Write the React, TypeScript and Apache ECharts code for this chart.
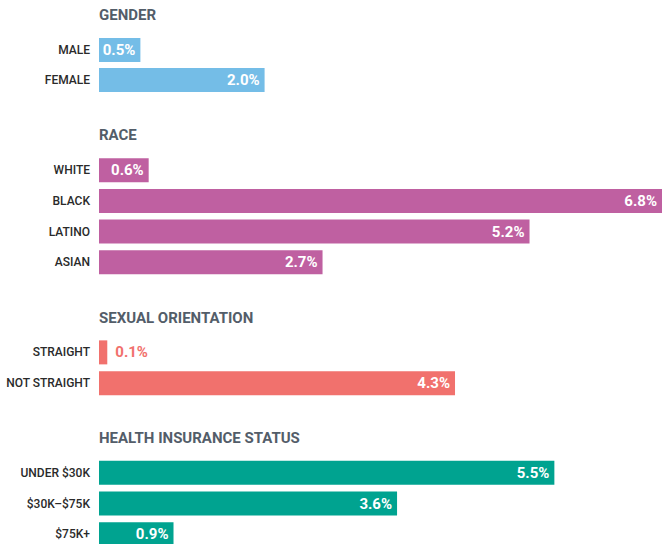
import React, { useEffect, useRef } from "react";
import * as echarts from "echarts";

const groupTitles = ["GENDER", "RACE", "SEXUAL ORIENTATION", "HEALTH INSURANCE STATUS"];
const genderCats = ["MALE", "FEMALE"];
const genderVals = [0.5, 2.0];
const raceCats = ["WHITE", "BLACK", "LATINO", "ASIAN"];
const raceVals = [0.6, 6.8, 5.2, 2.7];
const orientCats = ["STRAIGHT", "NOT STRAIGHT"];
const orientVals = [0.1, 4.3];
const incomeCats = ["UNDER $30K", "$30K–$75K", "$75K+"];
const incomeVals = [5.5, 3.6, 0.9];

const groupColors = ["#74bde7", "#bf60a1", "#f1716d", "#00a390"];

export default function App() {
  const ref = useRef<HTMLDivElement>(null);
  useEffect(() => {
    if (!ref.current) return;
    const chart = echarts.init(ref.current, null, { renderer: "svg" });
    const groups = [
      { cats: genderCats, vals: genderVals },
      { cats: raceCats, vals: raceVals },
      { cats: orientCats, vals: orientVals },
      { cats: incomeCats, vals: incomeVals },
    ];
    const layout = [
      { top: 35, height: 60, titleY: 16 },
      { top: 155, height: 122.5, titleY: 136 },
      { top: 337, height: 61.5, titleY: 319 },
      { top: 457.5, height: 92, titleY: 439 },
    ];
    const font = "Roboto";
    const option: any = {
      animation: false,
      backgroundColor: "#ffffff",
      title: groups.map((g, i) => ({
        text: groupTitles[i],
        left: 99,
        top: layout[i].titleY - 9,
        padding: 0,
        textStyle: {
          fontFamily: font,
          fontWeight: "bold",
          fontSize: 15,
          color: "#535d69",
        },
      })),
      grid: groups.map((g, i) => ({
        left: 99,
        width: 563,
        top: layout[i].top,
        height: layout[i].height,
        containLabel: false,
        outerBoundsMode: "none",
      })),
      xAxis: groups.map((g, i) => ({
        type: "value",
        gridIndex: i,
        min: 0,
        max: 6.8,
        show: false,
      })),
      yAxis: groups.map((g, i) => ({
        type: "category",
        gridIndex: i,
        data: g.cats,
        inverse: true,
        axisLine: { show: false },
        axisTick: { show: false },
        axisLabel: {
          margin: 9,
          fontFamily: font,
          fontWeight: 500,
          fontSize: 12,
          color: "#2a2a2a",
        },
      })),
      series: groups.map((g, i) => ({
        type: "bar",
        xAxisIndex: i,
        yAxisIndex: i,
        barWidth: 24,
        itemStyle: { color: groupColors[i] },
        data: g.vals.map((v) => {
          const outside = v < 0.3;
          return {
            value: v,
            label: {
              show: true,
              position: outside ? "right" : "insideRight",
              distance: outside ? 8 : 5,
              color: outside ? groupColors[i] : "#ffffff",
              fontFamily: font,
              fontWeight: "bold",
              fontSize: 15,
              formatter: (p: any) => Number(p.value).toFixed(1) + "%",
            },
          };
        }),
      })),
    };
    chart.setOption(option);
    return () => chart.dispose();
  }, []);
  return (
    <div
      ref={ref}
      style={{ position: "fixed", left: 0, top: 0, width: 667, height: 544 }}
    />
  );
}
